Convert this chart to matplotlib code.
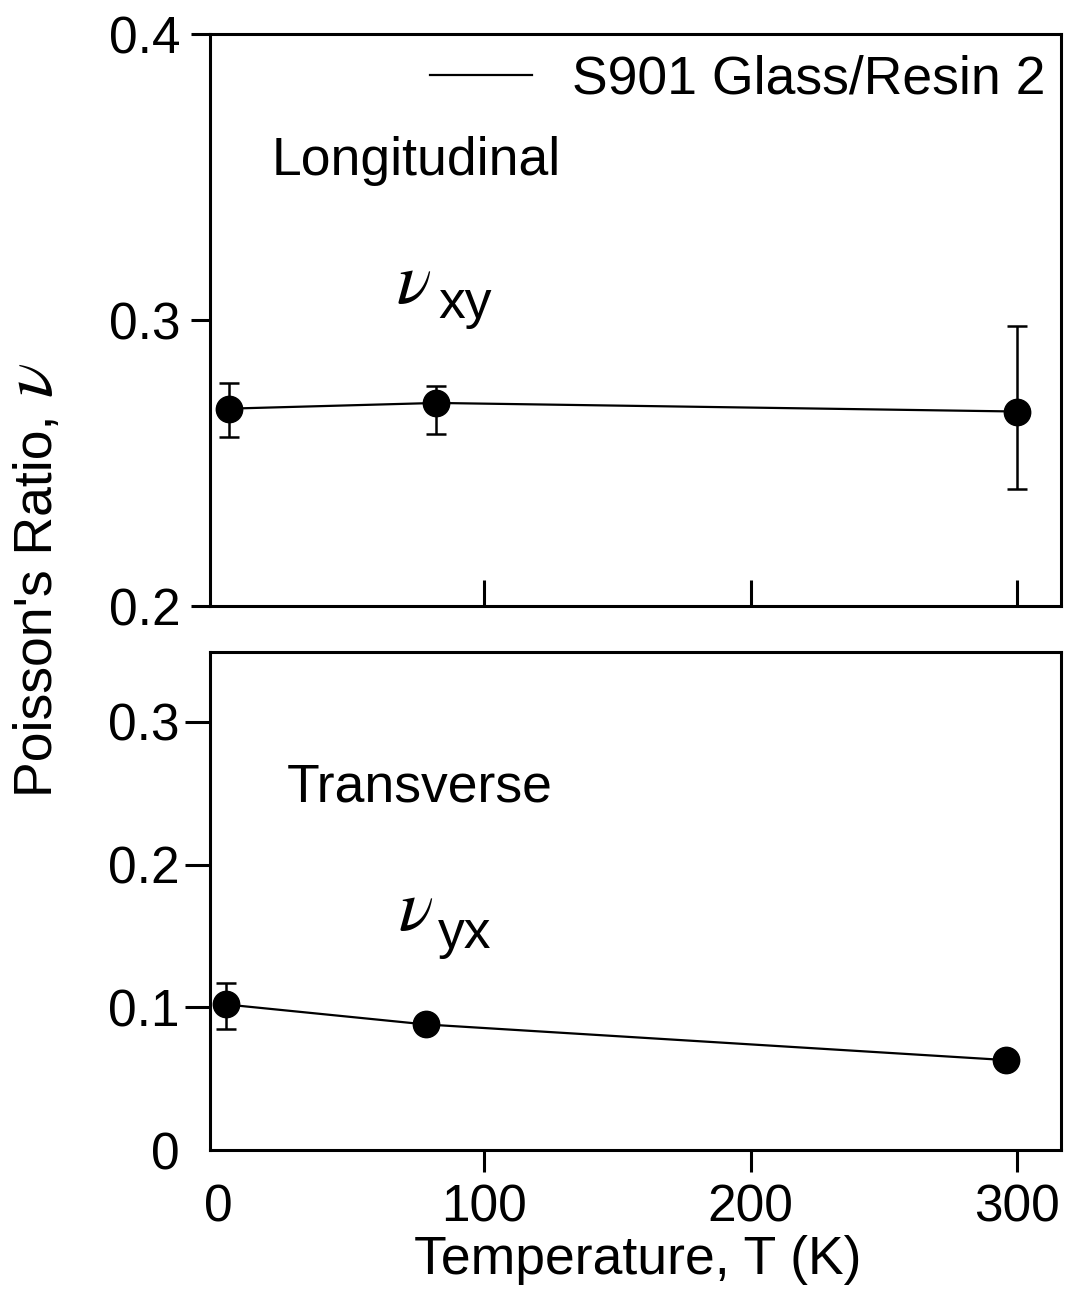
import matplotlib
matplotlib.use("Agg")
import matplotlib.pyplot as plt

plt.rcParams['font.family'] = ['Liberation Sans', 'DejaVu Sans']
plt.rcParams['mathtext.fontset'] = 'stix'

# Longitudinal (nu_xy)
T_long = [4, 82, 300]
nu_xy = [0.269, 0.271, 0.268]
nu_xy_lo = [0.259, 0.260, 0.241]
nu_xy_hi = [0.278, 0.277, 0.298]

# Transverse (nu_yx)
T_trans = [3, 78, 296]
nu_yx = [0.102, 0.088, 0.063]
nu_yx_lo = [0.085, 0.088, 0.063]
nu_yx_hi = [0.117, 0.088, 0.063]

series_label = 'S901 Glass/Resin 2'
xticks = [0, 100, 200, 300]
yticks_top = [0.2, 0.3, 0.4]
yticks_bot = [0, 0.1, 0.2, 0.3]

FS = 37      # tick labels
FT = 38.5    # other texts
LW = 2.2

fig = plt.figure(figsize=(10.67, 12.9), dpi=100)
W, H = 1067, 1290
L, R = 210, 1061
ax1 = fig.add_axes([L / W, 1 - 606 / H, (R - L) / W, (606 - 34) / H])
ax2 = fig.add_axes([L / W, 1 - 1150 / H, (R - L) / W, (1150 - 652) / H])

for ax in (ax1, ax2):
    for s in ax.spines.values():
        s.set_linewidth(LW)
    ax.set_xlim(-3, 316.5)

# top panel
ax1.plot(T_long, nu_xy, color='black', lw=1.6, label=series_label)
ax1.errorbar(T_long, nu_xy,
             yerr=[[v - lo for v, lo in zip(nu_xy, nu_xy_lo)],
                   [hi - v for v, hi in zip(nu_xy, nu_xy_hi)]],
             fmt='o', color='black', ms=19, elinewidth=1.8, capsize=7, capthick=1.8)
ax1.set_ylim(0.2, 0.4)
ax1.set_yticks(yticks_top)
ax1.set_yticklabels(['0.2', '0.3', '0.4'])
ax1.set_xticks(xticks[1:])
ax1.set_xticklabels([])
ax1.tick_params(axis='y', direction='out', length=14, width=LW, labelsize=FS, pad=7)
ax1.tick_params(axis='x', direction='in', length=19, width=LW)
ax1.legend(loc='center left', bbox_to_anchor=((430 - L) / (R - L), (606 - 80) / 572),
           frameon=False, fontsize=FT, handlelength=1.9, handletextpad=0.75,
           borderpad=0, borderaxespad=0)
ax1.text((272 - L) / (R - L), (606 - 175) / 572, 'Longitudinal', transform=ax1.transAxes,
         fontsize=FT, va='baseline', ha='left')
ax1.text((396 - L) / (R - L), (606 - 303) / 572, r'$\nu$', transform=ax1.transAxes,
         fontsize=52, va='baseline', ha='left')
ax1.text((438 - L) / (R - L), (606 - 318) / 572, 'xy', transform=ax1.transAxes,
         fontsize=FT, va='baseline', ha='left')

# bottom panel
ax2.plot(T_trans, nu_yx, color='black', lw=1.6)
ax2.errorbar(T_trans, nu_yx,
             yerr=[[v - lo for v, lo in zip(nu_yx, nu_yx_lo)],
                   [hi - v for v, hi in zip(nu_yx, nu_yx_hi)]],
             fmt='o', color='black', ms=19, elinewidth=1.8, capsize=7, capthick=1.8)
ax2.set_ylim(0, 0.349)
ax2.set_yticks(yticks_bot)
ax2.set_yticklabels(['0', '0.1', '0.2', '0.3'])
ax2.set_xticks(xticks)
ax2.set_xticklabels([str(t) for t in xticks])
ax2.tick_params(axis='y', direction='out', length=18, width=LW, labelsize=FS, pad=4)
ax2.tick_params(axis='x', direction='out', length=16, width=LW, labelsize=FS, pad=8)
ax2.yaxis.get_major_ticks()[0].tick1line.set_visible(False)
ax2.xaxis.get_major_ticks()[0].tick1line.set_visible(False)
ax2.text((287 - L) / (R - L), (1150 - 802) / 498, 'Transverse', transform=ax2.transAxes,
         fontsize=FT, va='baseline', ha='left')
ax2.text((398 - L) / (R - L), (1150 - 930) / 498, r'$\nu$', transform=ax2.transAxes,
         fontsize=52, va='baseline', ha='left')
ax2.text((438 - L) / (R - L), (1150 - 948) / 498, 'yx', transform=ax2.transAxes,
         fontsize=FT, va='baseline', ha='left')

# y label, split so the nu can be larger
fig.text(52 / W, 1 - 797 / H, "Poisson's Ratio,", rotation=90, rotation_mode='anchor',
         fontsize=FT, ha='left', va='baseline')
fig.text(52 / W, 1 - 398 / H, r'$\nu$', rotation=90, rotation_mode='anchor',
         fontsize=52, ha='left', va='baseline')
fig.text(638 / W, 1 - 1274 / H, 'Temperature, T (K)', fontsize=FT,
         ha='center', va='baseline')

fig.savefig('out.png', dpi=100)
